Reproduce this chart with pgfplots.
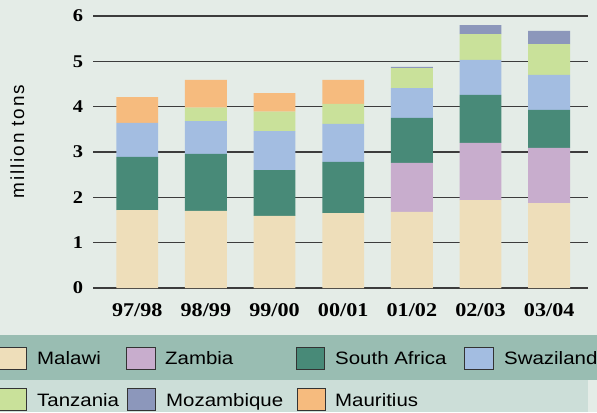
\documentclass[border=0pt]{standalone}
\usepackage{pgfplots}
\pgfplotsset{compat=1.18}
\usepackage{pgfplotstable}
\usepackage{fontspec}
\setmainfont{Liberation Sans}[FakeStretch=1.14]
\newfontfamily\tickfont{Liberation Serif}[FakeStretch=1.14]
\newfontfamily\ylabfont{Liberation Sans}[LetterSpace=10]
\definecolor{bgc}{HTML}{E4ECE7}
\definecolor{banda}{HTML}{99BDB2}
\definecolor{bandb}{HTML}{CCDED8}
\definecolor{gridc}{HTML}{3C3C3C}
\definecolor{cMalawi}{HTML}{EEDEBA}
\definecolor{cZambia}{HTML}{C8ADCD}
\definecolor{cSA}{HTML}{488A78}
\definecolor{cSwazi}{HTML}{A3BDE1}
\definecolor{cTanz}{HTML}{C9E19A}
\definecolor{cMoz}{HTML}{8C97BB}
\definecolor{cMaur}{HTML}{F6BB7E}
\pgfplotstableread{
x Malawi Zambia SA Swazi Tanz Moz Maur
0 1.72 0 1.17 0.75 0 0 0.57
1 1.70 0 1.26 0.72 0.30 0 0.61
2 1.59 0 1.01 0.86 0.43 0 0.41
3 1.65 0 1.13 0.84 0.44 0 0.53
4 1.68 1.08 0.99 0.66 0.44 0.025 0
5 1.94 1.26 1.06 0.77 0.57 0.20 0
6 1.875 1.215 0.84 0.77 0.68 0.29 0
}\sugar
\begin{document}
\begin{tikzpicture}[x=1bp,y=1bp]
\useasboundingbox (0,0) rectangle (597,412);
\fill[bgc] (0,0) rectangle (597,412);
\fill[banda] (0,32) rectangle (597,77);
\fill[bandb] (0,0) rectangle (588,32);
\begin{axis}[
  at={(93.3bp,124bp)}, anchor=south west,
  scale only axis, width=495bp, height=272bp,
  xmin=-0.64, xmax=6.57, ymin=0, ymax=6,
  enlargelimits=false,
  ybar stacked, bar width=0.61,
  axis line style={draw=none},
  major tick length=0pt,
  /pgf/number format/assume math mode=true,
  ytick={0,1,2,3,4,5,6},
  xtick={0,1,2,3,4,5,6},
  xticklabels={97/98,98/99,99/00,00/01,01/02,02/03,03/04},
  ymajorgrids,
  major grid style={draw=gridc, line width=1.2bp},
  yticklabel style={font=\tickfont\bfseries\fontsize{18}{18}\selectfont, inner sep=0pt, anchor=east, xshift=-10bp},
  xticklabel style={font=\tickfont\bfseries\fontsize{19.5}{20}\selectfont, inner sep=0pt, anchor=north, yshift=-15bp},
]
\addplot[fill=cMalawi, draw=none] table[x=x, y=Malawi] {\sugar};
\addplot[fill=cZambia, draw=none] table[x=x, y=Zambia] {\sugar};
\addplot[fill=cSA, draw=none] table[x=x, y=SA] {\sugar};
\addplot[fill=cSwazi, draw=none] table[x=x, y=Swazi] {\sugar};
\addplot[fill=cTanz, draw=none] table[x=x, y=Tanz] {\sugar};
\addplot[fill=cMoz, draw=none] table[x=x, y=Moz] {\sugar};
\addplot[fill=cMaur, draw=none] table[x=x, y=Maur] {\sugar};
\end{axis}
\node[rotate=90, anchor=base, inner sep=0pt, font=\ylabfont\fontsize{19}{20}\selectfont] at (24,270.5) {million tons};
\tikzset{lbox/.style={draw=black!80, line width=0.8bp}, ltext/.style={anchor=base west, inner sep=0pt, font=\fontsize{18}{20}\selectfont}}
% row 1
\filldraw[lbox, fill=cMalawi] (-3,43) rectangle (26,65);
\node[ltext] at (37,48) {Malawi};
\filldraw[lbox, fill=cZambia] (126,43) rectangle (155,65);
\node[ltext] at (165,48) {Zambia};
\filldraw[lbox, fill=cSA] (296,43) rectangle (324,65);
\node[ltext] at (335,48) {South Africa};
\filldraw[lbox, fill=cSwazi] (464,43) rectangle (493,65);
\node[ltext] at (504,48) {Swaziland};
% row 2
\filldraw[lbox, fill=cTanz] (-3,2) rectangle (26,24);
\node[ltext] at (37,6) {Tanzania};
\filldraw[lbox, fill=cMoz] (127,2) rectangle (155,24);
\node[ltext] at (166,6) {Mozambique};
\filldraw[lbox, fill=cMaur] (297,2) rectangle (325,24);
\node[ltext] at (335,6) {Mauritius};
\end{tikzpicture}
\end{document}
